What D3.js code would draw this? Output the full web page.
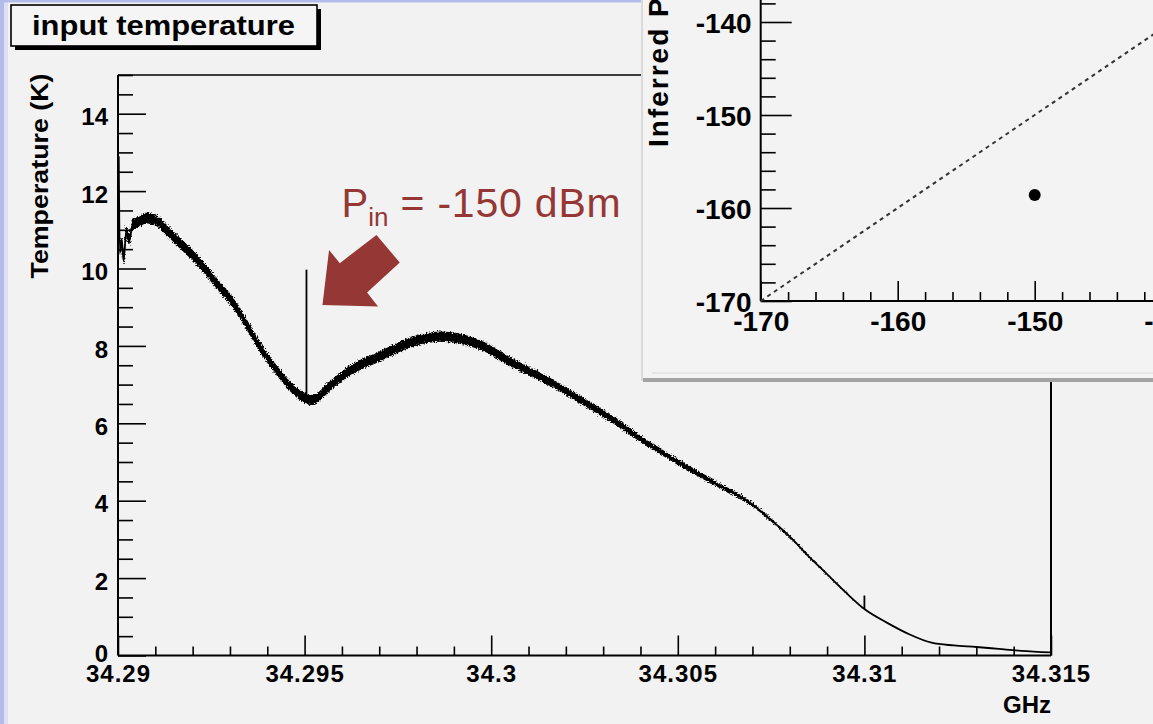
<!DOCTYPE html>
<html>
<head>
<meta charset="utf-8">
<script src="https://cdn.jsdelivr.net/npm/d3@7"></script>
<style>
  html, body { margin: 0; padding: 0; background: #f2f2f2; }
  svg { display: block; }
  text { font-family: "Liberation Sans", Arial, Helvetica, sans-serif; }
</style>
</head>
<body>
<svg id="chart" width="1153" height="724"></svg>
<script>
// ---- Input-referred noise temperature across the band ----
const freqGHz = [
  34.29002, 34.29005, 34.29010, 34.29015, 34.29022, 34.29030, 34.29040, 34.29055,
  34.29075, 34.29100, 34.29130, 34.29175, 34.29220, 34.29264, 34.29309, 34.29353,
  34.29380, 34.29434, 34.29470, 34.29520, 34.29567, 34.29612, 34.29701, 34.29790,
  34.29862, 34.29969, 34.30057, 34.30148, 34.30237, 34.30325, 34.30400, 34.30500,
  34.30600, 34.30700, 34.30750, 34.30800, 34.30850, 34.30900, 34.30950, 34.31000,
  34.31060, 34.31120, 34.31180, 34.31240, 34.31300, 34.31360, 34.31420, 34.31500
];
const temperatureK = [
  12.9, 10.4, 10.75, 10.2, 10.95, 10.75, 11.15, 11.2,
  11.3, 11.25, 11.0, 10.57, 10.14, 9.62, 9.1, 8.42,
  7.98, 7.26, 6.87, 6.6, 6.95, 7.3, 7.73, 8.11,
  8.24, 8.03, 7.56, 7.12, 6.62, 6.1, 5.6, 5.0,
  4.45, 3.9, 3.5, 3.07, 2.57, 2.1, 1.63, 1.2,
  0.85, 0.55, 0.33, 0.26, 0.22, 0.17, 0.12, 0.08
];
// half-width of the measurement scatter around the trace (K)
const scatterK = [
  0, 0.02, 0.09, 0.11, 0.14, 0.14, 0.14, 0.14,
  0.14, 0.14, 0.14, 0.14, 0.14, 0.14, 0.14, 0.14,
  0.14, 0.13, 0.13, 0.13, 0.13, 0.13, 0.13, 0.13,
  0.13, 0.125, 0.12, 0.11, 0.1, 0.095, 0.085, 0.075,
  0.065, 0.05, 0.04, 0.03, 0.02, 0.015, 0.01, 0,
  0, 0, 0, 0, 0, 0, 0, 0
];
// narrow tones sitting on the trace
const toneFreqGHz = [34.29505, 34.31];
const toneBaseK = [6.65, 1.2];
const toneTopK = [9.97, 1.55];

const xMajorGHz = [34.29, 34.295, 34.3, 34.305, 34.31, 34.315];
const xMajorLabels = ["34.29", "34.295", "34.3", "34.305", "34.31", "34.315"];
const yMajorK = [0, 2, 4, 6, 8, 10, 12, 14];

// ---- Inset: inferred vs. injected power ----
const injectedDbm = [-150];
const inferredDbm = [-158.6];
const unityDbm = [-170, -130];
const insetMajor = [-170, -160, -150, -140];

const plainNum = d => String(d);   // ASCII hyphen for negatives
const svg = d3.select("#chart");

// page edges
svg.append("rect").attr("x", 0).attr("y", 0).attr("width", 1153).attr("height", 724).attr("fill", "#f2f2f2");
svg.append("rect").attr("x", 0).attr("y", 0).attr("width", 4).attr("height", 724).attr("fill", "#b3bbea");
svg.append("rect").attr("x", 4).attr("y", 0).attr("width", 4).attr("height", 724).attr("fill", "#dde0f3");
svg.append("rect").attr("x", 0).attr("y", 0).attr("width", 641).attr("height", 2.5).attr("fill", "#b3bbea");

const defs = svg.append("defs");
const grain = defs.append("filter").attr("id", "grain")
  .attr("x", "-2%").attr("y", "-5%").attr("width", "104%").attr("height", "110%");
grain.append("feTurbulence").attr("type", "fractalNoise").attr("baseFrequency", "0.75")
  .attr("numOctaves", 1).attr("seed", 4).attr("result", "turb");
grain.append("feDisplacementMap").attr("in", "SourceGraphic").attr("in2", "turb")
  .attr("scale", 6).attr("xChannelSelector", "R").attr("yChannelSelector", "G");

// ---------- main frame ----------
const x = d3.scaleLinear().domain([34.29, 34.315]).range([118, 1051]);
const y = d3.scaleLinear().domain([0, 15]).range([655.5, 75]);

const main = svg.append("g");

// frame top / right
main.append("line").attr("x1", x(34.29)).attr("x2", x(34.315)).attr("y1", y(15)).attr("y2", y(15))
  .attr("stroke", "#000").attr("stroke-width", 1.6);
main.append("line").attr("x1", x(34.315)).attr("x2", x(34.315)).attr("y1", y(15)).attr("y2", y(0))
  .attr("stroke", "#000").attr("stroke-width", 2);

// y axis: majors, minors every 0.5 K
const yMinor = d3.range(0, 15.001, 0.5).filter(v => !yMajorK.includes(v));
const yAxisMajor = d3.axisLeft(y).tickValues(yMajorK).tickSize(-28).tickPadding(10).tickFormat(plainNum);
const yAxisMinor = d3.axisLeft(y).tickValues(yMinor).tickSize(-15).tickFormat("");
const gyMin = main.append("g").attr("transform", `translate(${x(34.29)},0)`).call(yAxisMinor);
const gy = main.append("g").attr("transform", `translate(${x(34.29)},0)`).call(yAxisMajor);
[gy, gyMin].forEach(g => {
  g.select(".domain").remove();
  g.selectAll(".tick line").attr("stroke", "#000").attr("stroke-width", 1.6);
});
gy.selectAll(".tick text")
  .attr("dy", d => d === 0 ? "0.27em" : "0.47em")
  .attr("fill", "#000").attr("font-size", 24).attr("font-weight", "bold")
  .attr("font-family", "'Liberation Sans', Arial, sans-serif");

// x axis: majors, minors every 0.001 GHz
const xMinor = d3.range(0, 26).map(i => 34.29 + i * 0.001).filter((v, i) => i % 5 !== 0);
const xAxisMajor = d3.axisBottom(x).tickValues(xMajorGHz).tickSize(-20).tickPadding(9)
  .tickFormat((d, i) => xMajorLabels[i]);
const xAxisMinor = d3.axisBottom(x).tickValues(xMinor).tickSize(-9).tickFormat("");
const gxMin = main.append("g").attr("transform", `translate(0,${y(0)})`).call(xAxisMinor);
const gx = main.append("g").attr("transform", `translate(0,${y(0)})`).call(xAxisMajor);
[gx, gxMin].forEach(g => {
  g.select(".domain").remove();
  g.selectAll(".tick line").attr("stroke", "#000").attr("stroke-width", 1.6);
});
gx.selectAll(".tick text")
  .attr("fill", "#000").attr("font-size", 24).attr("font-weight", "bold").attr("letter-spacing", 1)
  .attr("font-family", "'Liberation Sans', Arial, sans-serif");

// axis lines
main.append("line").attr("x1", x(34.29)).attr("x2", x(34.29)).attr("y1", y(15)).attr("y2", y(0))
  .attr("stroke", "#000").attr("stroke-width", 2);
main.append("line").attr("x1", x(34.29)).attr("x2", x(34.315)).attr("y1", y(0)).attr("y2", y(0))
  .attr("stroke", "#000").attr("stroke-width", 2);

// axis titles
main.append("text")
  .attr("transform", `translate(48,${y(15) - 1.5}) rotate(-90)`)
  .attr("text-anchor", "end")
  .attr("font-size", 23).attr("font-weight", "bold")
  .attr("textLength", 205).attr("lengthAdjust", "spacingAndGlyphs")
  .text("Temperature (K)");
main.append("text")
  .attr("x", x(34.315)).attr("y", 713)
  .attr("text-anchor", "end")
  .attr("font-size", 24).attr("font-weight", "bold")
  .text("GHz");

// trace: scatter band plus centre line
const trace = freqGHz.map((f, i) => ({ f, t: temperatureK[i], s: scatterK[i] }));
const band = d3.area()
  .x(d => x(d.f))
  .y0(d => y(d.t - d.s))
  .y1(d => y(d.t + d.s))
  .curve(d3.curveMonotoneX);
const centre = d3.line()
  .x(d => x(d.f))
  .y(d => y(d.t))
  .curve(d3.curveMonotoneX);

main.append("path").datum(trace.filter(d => d.f < 34.3101)).attr("d", band)
  .attr("fill", "#000").attr("filter", "url(#grain)");
main.append("path").datum(trace).attr("d", centre)
  .attr("fill", "none").attr("stroke", "#000").attr("stroke-width", 1.8);

main.selectAll("line.tone")
  .data(toneFreqGHz)
  .join("line")
  .attr("class", "tone")
  .attr("x1", d => x(d)).attr("x2", d => x(d))
  .attr("y1", (d, i) => y(toneBaseK[i])).attr("y2", (d, i) => y(toneTopK[i]))
  .attr("stroke", "#000").attr("stroke-width", 1.8);

// histogram title box
const tb = svg.append("g");
tb.append("rect").attr("x", 15).attr("y", 9).attr("width", 306).attr("height", 41).attr("fill", "#000");
tb.append("rect").attr("x", 11).attr("y", 5).attr("width", 306).attr("height", 41)
  .attr("fill", "#f5f5f5").attr("stroke", "#000").attr("stroke-width", 1.6);
tb.append("text").attr("x", 32).attr("y", 35)
  .attr("font-size", 27).attr("font-weight", "bold")
  .attr("textLength", 263).attr("lengthAdjust", "spacingAndGlyphs")
  .text("input temperature");

// annotation for the injected tone
const red = "#953735";
const tipX = x(toneFreqGHz[0]) + 16;
const tipY = y(9.06);
const arrowShape = [[0, 0], [6.6, -55], [17.3, -41.7], [54, -70], [77.3, -42.3], [44.6, -12.3], [55.6, 1.7]];
svg.append("path")
  .attr("d", d3.line()(arrowShape.map(([dx, dy]) => [tipX + dx, tipY + dy])) + "Z")
  .attr("fill", red);

const ann = svg.append("text")
  .attr("x", tipX + 19).attr("y", tipY - 88)
  .attr("fill", red).attr("font-family", "Lato, 'Open Sans', sans-serif").attr("font-size", 40);
ann.append("tspan").text("P");
ann.append("tspan").attr("dy", 9).attr("font-size", 26).text("in");
ann.append("tspan").attr("x", tipX + 78).attr("dy", -9).attr("font-size", 41)
  .attr("letter-spacing", 0.8).text("= -150 dBm");

// ---------- inset ----------
const inset = svg.append("g");
defs.append("clipPath").attr("id", "insetClip")
  .append("rect").attr("x", 641).attr("y", 0).attr("width", 512).attr("height", 383);
inset.attr("clip-path", "url(#insetClip)");
inset.append("rect").attr("x", 641).attr("y", 0).attr("width", 512).attr("height", 381).attr("fill", "#f3f3f3");
inset.append("line").attr("x1", 642).attr("x2", 642).attr("y1", 0).attr("y2", 381)
  .attr("stroke", "#d2d2d2").attr("stroke-width", 1.5);
inset.append("line").attr("x1", 652).attr("x2", 1153).attr("y1", 373).attr("y2", 373)
  .attr("stroke", "#e2e2e2").attr("stroke-width", 1.5);
inset.append("rect").attr("x", 643).attr("y", 378).attr("width", 510).attr("height", 4).attr("fill", "#a4a4a4");

const ix = d3.scaleLinear().domain([-170, -140]).range([760.7, 1171.7]);
const iy = d3.scaleLinear().domain([-170, -140]).range([301, 22]);

const iyMinor = d3.range(-170, -137.9, 2).filter(v => !insetMajor.includes(v));
const ixMinor = d3.range(-170, -139.9, 2).filter(v => !insetMajor.includes(v));

const giyMin = inset.append("g").attr("transform", `translate(${ix(-170)},0)`)
  .call(d3.axisLeft(iy).tickValues(iyMinor).tickSize(-15).tickFormat(""));
const giy = inset.append("g").attr("transform", `translate(${ix(-170)},0)`)
  .call(d3.axisLeft(iy).tickValues(insetMajor).tickSize(-31).tickPadding(9).tickFormat(plainNum));
const gixMin = inset.append("g").attr("transform", `translate(0,${iy(-170)})`)
  .call(d3.axisBottom(ix).tickValues(ixMinor).tickSize(-9).tickFormat(""));
const gix = inset.append("g").attr("transform", `translate(0,${iy(-170)})`)
  .call(d3.axisBottom(ix).tickValues(insetMajor).tickSize(-20).tickPadding(10).tickFormat(plainNum));
[giyMin, giy, gixMin, gix].forEach(g => {
  g.select(".domain").remove();
  g.selectAll(".tick line").attr("stroke", "#000").attr("stroke-width", 1.6);
  g.selectAll(".tick text").attr("fill", "#000").attr("font-size", 28).attr("font-weight", "bold")
    .attr("font-family", "'Liberation Sans', Arial, sans-serif");
});
giy.selectAll(".tick text").attr("dy", "0.38em");

inset.append("line").attr("x1", ix(-170)).attr("x2", ix(-170)).attr("y1", 0).attr("y2", iy(-170))
  .attr("stroke", "#000").attr("stroke-width", 2);
inset.append("line").attr("x1", ix(-170)).attr("x2", 1153).attr("y1", iy(-170)).attr("y2", iy(-170))
  .attr("stroke", "#000").attr("stroke-width", 2);

inset.append("text")
  .attr("transform", `translate(668,147) rotate(-90)`)
  .attr("font-size", 28).attr("font-weight", "bold").attr("letter-spacing", 2)
  .text("Inferred Power (dBm)");

// unity reference
inset.append("line")
  .attr("x1", ix(unityDbm[0])).attr("y1", iy(unityDbm[0]))
  .attr("x2", ix(unityDbm[1])).attr("y2", iy(unityDbm[1]))
  .attr("stroke", "#333").attr("stroke-width", 2).attr("stroke-dasharray", "4,4");

inset.selectAll("circle.meas")
  .data(injectedDbm)
  .join("circle")
  .attr("class", "meas")
  .attr("cx", d => ix(d))
  .attr("cy", (d, i) => iy(inferredDbm[i]))
  .attr("r", 6)
  .attr("fill", "#000");
</script>
</body>
</html>
